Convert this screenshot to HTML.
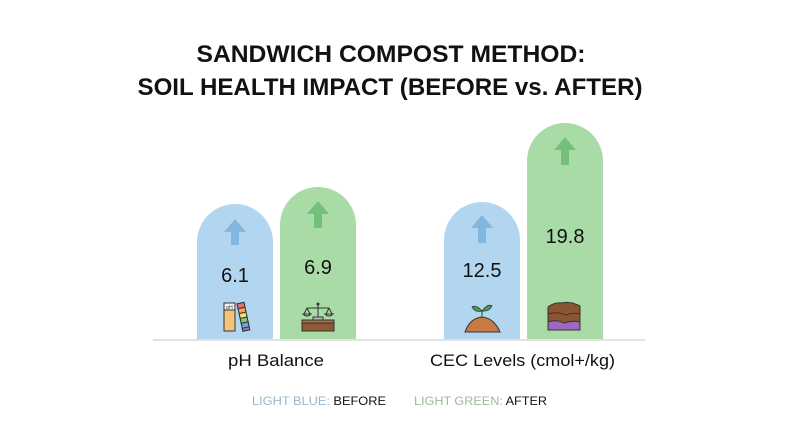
<!DOCTYPE html>
<html><head><meta charset="utf-8"><style>
html,body{margin:0;padding:0;background:#fff;}
svg{display:block;}
text{font-family:"Liberation Sans",sans-serif;}
</style></head><body>
<svg width="800" height="446" viewBox="0 0 800 446" xmlns="http://www.w3.org/2000/svg">
<rect width="800" height="446" fill="#ffffff"/>
<!-- title -->
<text x="391" y="62" text-anchor="middle" font-size="24" font-weight="bold" fill="#111" textLength="389" lengthAdjust="spacingAndGlyphs">SANDWICH COMPOST METHOD:</text>
<text x="390" y="95" text-anchor="middle" font-size="24" font-weight="bold" fill="#111" textLength="505" lengthAdjust="spacingAndGlyphs">SOIL HEALTH IMPACT (BEFORE vs. AFTER)</text>

<!-- bars -->
<path d="M197,339 L197,242 A38,38 0 0 1 273,242 L273,339 Z" fill="#b3d6f0"/>
<path d="M280,339 L280,225 A38,38 0 0 1 356,225 L356,339 Z" fill="#a9dba7"/>
<path d="M444,339 L444,240 A38,38 0 0 1 520,240 L520,339 Z" fill="#b3d6f0"/>
<path d="M527,339 L527,161 A38,38 0 0 1 603,161 L603,339 Z" fill="#a9dba7"/>

<!-- arrows -->
<g fill="#82b7df">
<polygon points="235,219 224,232 231,232 231,245 239,245 239,232 246,232"/>
<polygon points="482,215 471,228 478,228 478,243 486,243 486,228 493,228"/>
</g>
<g fill="#72c07a">
<polygon points="318,201 307,214 314,214 314,228 322,228 322,214 329,214"/>
<polygon points="565,137 554,150 561,150 561,165 569,165 569,150 576,150"/>
</g>

<!-- values -->
<g font-size="20" fill="#111" text-anchor="middle">
<text x="235" y="282">6.1</text>
<text x="318" y="274">6.9</text>
<text x="482" y="277">12.5</text>
<text x="565" y="243">19.8</text>
</g>

<!-- pH strips icon -->
<g stroke="#333" stroke-width="1">
<rect x="224" y="303" width="11" height="28" fill="#f4c27a"/>
<rect x="224" y="303" width="11" height="7" fill="#f3f3f3"/>
<g transform="rotate(-12 241 303)">
<rect x="237" y="303" width="7" height="28" fill="#f5e06a"/>
<rect x="237" y="303" width="7" height="5" fill="#e86d6d"/>
<rect x="237" y="308" width="7" height="5" fill="#f3a54f"/>
<rect x="237" y="313" width="7" height="5" fill="#f5e06a"/>
<rect x="237" y="318" width="7" height="5" fill="#7cc77a"/>
<rect x="237" y="323" width="7" height="5" fill="#6aa8e0"/>
<rect x="237" y="328" width="7" height="3" fill="#9a7ad0"/>
</g>
</g>
<text x="229.5" y="309" font-size="5" text-anchor="middle" fill="#333">pH</text>

<!-- scales icon -->
<g stroke="#333" stroke-width="1" fill="none">
<line x1="318" y1="305" x2="318" y2="318"/>
<line x1="307" y1="308" x2="329" y2="308"/>
<line x1="307" y1="308" x2="304" y2="314"/>
<line x1="307" y1="308" x2="310" y2="314"/>
<line x1="329" y1="308" x2="326" y2="314"/>
<line x1="329" y1="308" x2="332" y2="314"/>
<path d="M303,314 Q307,318 311,314 Z" fill="#e8d9a8"/>
<path d="M325,314 Q329,318 333,314 Z" fill="#e8d9a8"/>
<rect x="313" y="317" width="10" height="3" fill="#bbb"/>
</g>
<circle cx="318" cy="304" r="1.5" fill="#333"/>
<rect x="302" y="320" width="32" height="11" fill="#8d5a35" stroke="#333" stroke-width="1"/>
<rect x="302" y="320" width="32" height="3" fill="#a9713f" stroke="#333" stroke-width="1"/>

<!-- sprout icon -->
<path d="M465,332 Q470,318 482,317 Q494,318 500,332 Z" fill="#c67b45" stroke="#333" stroke-width="1"/>
<line x1="482" y1="318" x2="482" y2="310" stroke="#2e6b3a" stroke-width="1.2"/>
<path d="M482,311 Q476,304 472,307 Q475,313 482,311 Z" fill="#4c9a5a" stroke="#333" stroke-width="0.8"/>
<path d="M482,311 Q488,303 492,306 Q489,312 482,311 Z" fill="#4c9a5a" stroke="#333" stroke-width="0.8"/>

<!-- soil block icon -->
<path d="M548,307 Q554,302 562,303 Q570,301 580,306 L580,330 L548,330 Z" fill="#8a5632" stroke="#333" stroke-width="1"/>
<path d="M548,322 Q556,319 564,323 Q572,320 580,322 L580,330 L548,330 Z" fill="#a167c2" stroke="#333" stroke-width="1"/>
<path d="M548,314 Q558,311 566,315 Q573,312 580,314" fill="none" stroke="#4d2e18" stroke-width="1"/>

<!-- baseline -->
<rect x="153" y="339" width="492" height="2" fill="#e2e2e2"/>

<!-- category labels -->
<text x="276" y="366" text-anchor="middle" font-size="17" fill="#111" textLength="96" lengthAdjust="spacingAndGlyphs">pH Balance</text>
<text x="522.5" y="366" text-anchor="middle" font-size="17" fill="#111" textLength="185" lengthAdjust="spacingAndGlyphs">CEC Levels (cmol+/kg)</text>

<!-- legend -->
<text x="252" y="405" font-size="12" textLength="134" lengthAdjust="spacingAndGlyphs"><tspan fill="#9ab8cc">LIGHT BLUE: </tspan><tspan fill="#111">BEFORE</tspan></text>
<text x="414" y="405" font-size="12" textLength="133" lengthAdjust="spacingAndGlyphs"><tspan fill="#a0b89c">LIGHT GREEN: </tspan><tspan fill="#111">AFTER</tspan></text>
</svg>
</body></html>
